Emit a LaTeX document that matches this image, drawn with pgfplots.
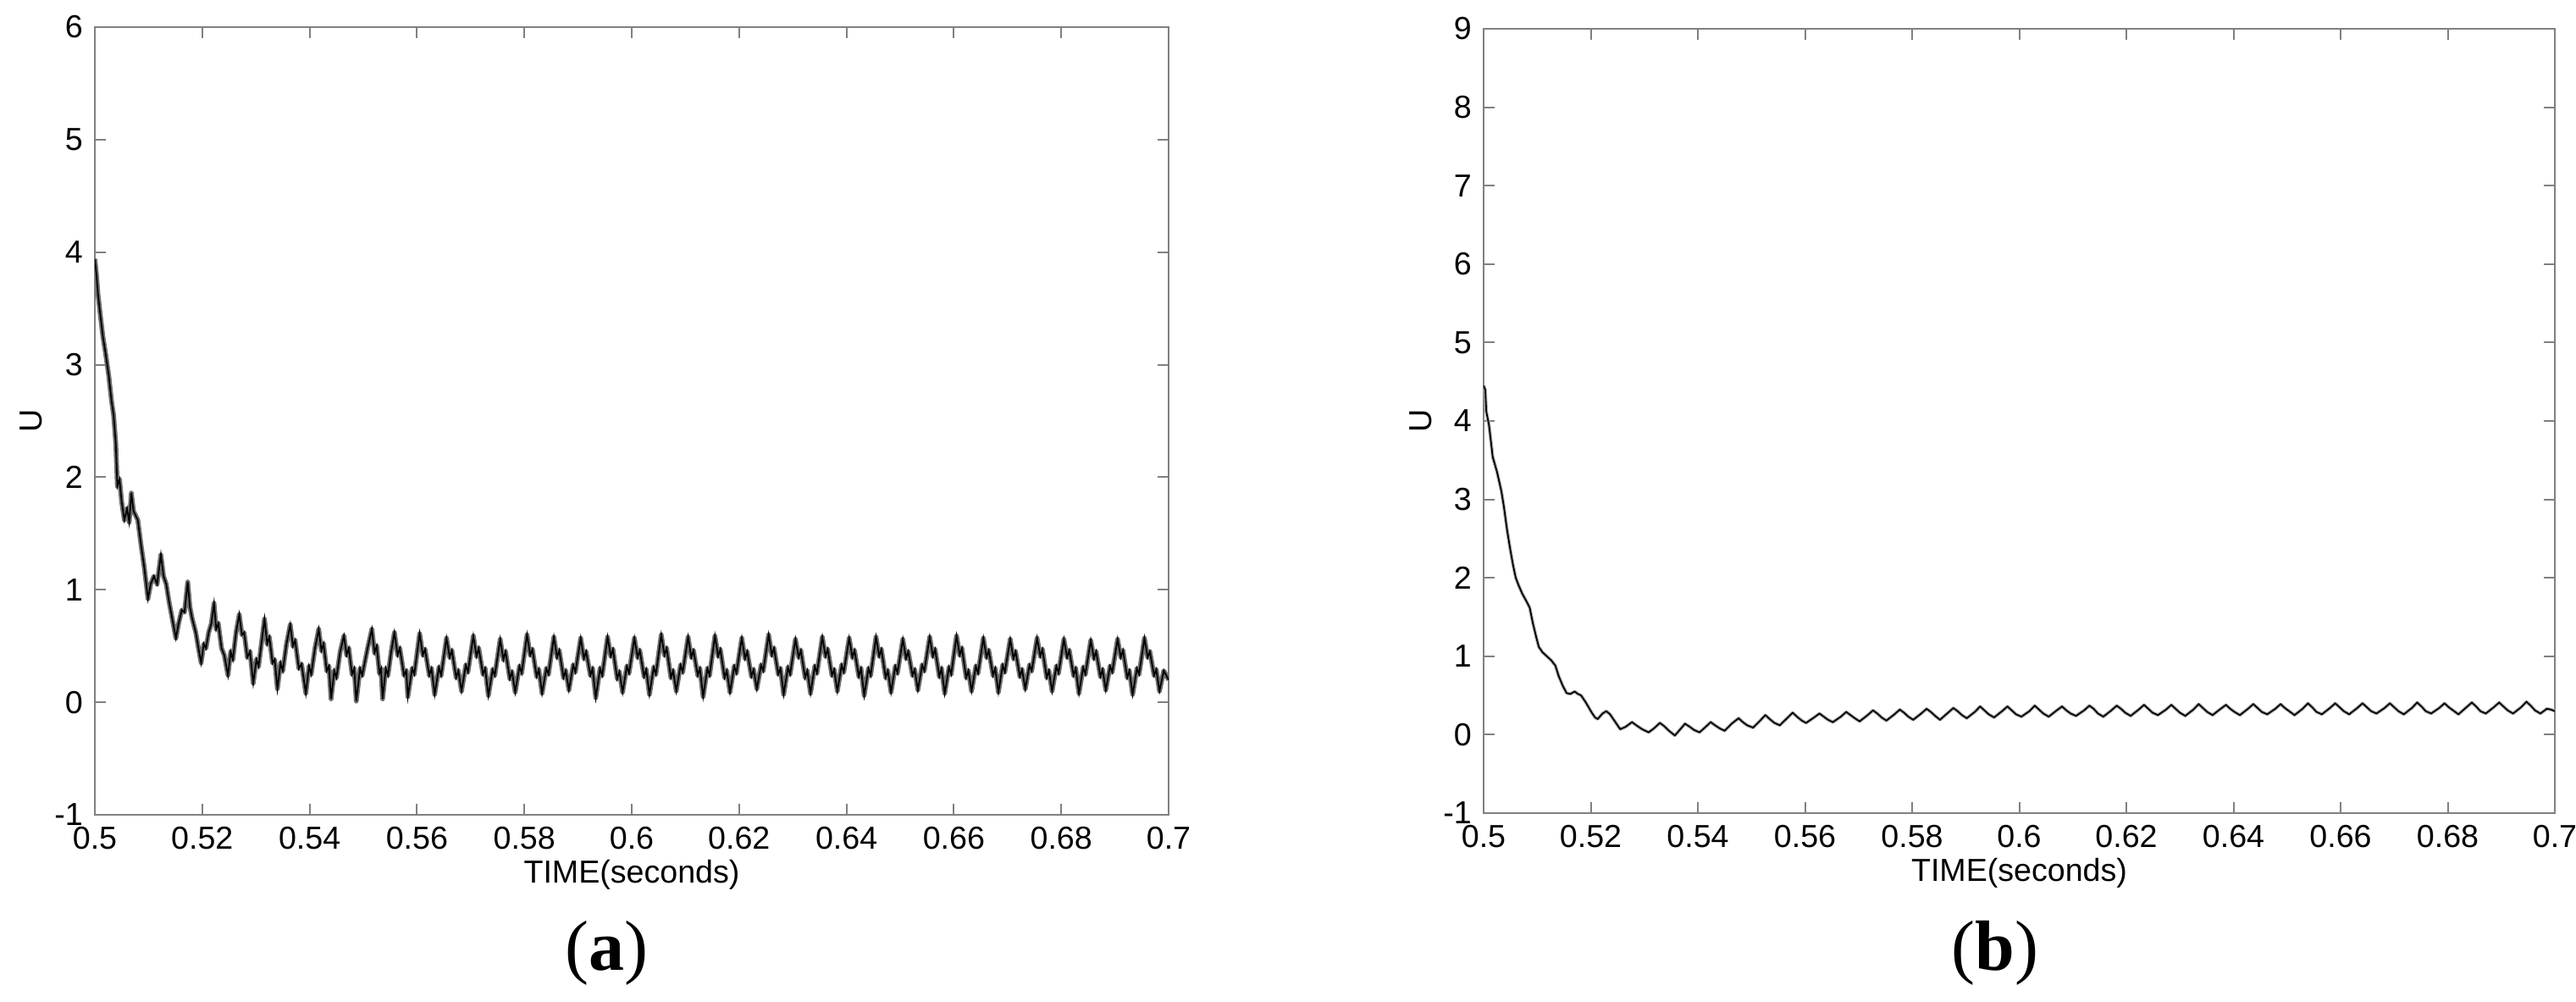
\documentclass[border=0pt]{standalone}
\usepackage{pgfplots}
\pgfplotsset{compat=1.18}
\usepackage{fontspec}
\setmainfont{Liberation Sans}
\newfontfamily\capfont{Liberation Serif}

\definecolor{axgray}{RGB}{128,128,128}
\definecolor{band}{RGB}{110,110,110}

\pgfplotsset{
  matfig/.style={
    scale only axis,
    anchor=south west,
    xmin=0.5, xmax=0.7,
    xtick={0.5,0.52,...,0.7},
    tick align=inside,
    major tick length=3.3pt,
    axis line style={axgray, line width=0.5pt},
    every tick/.style={axgray, line width=0.5pt},
    tick label style={font=\fontsize{9.4}{11}\selectfont},
    /pgf/number format/assume math mode=true,
    xticklabel style={/pgf/number format/fixed, /pgf/number format/precision=2},
    xlabel={TIME(seconds)},
    ylabel={U},
    label style={font=\fontsize{9.4}{11}\selectfont},
    xlabel style={at={(axis description cs:0.5,-0.076)}, anchor=center},
    ylabel style={at={(axis description cs:-0.059,0.5)}, anchor=center, rotate=0},
  }
}

\begin{document}
\begin{tikzpicture}
\useasboundingbox (0,0) rectangle (760.5pt,295.5pt);

% (a) response with ripple
\begin{axis}[matfig, at={(28pt,55pt)}, width=317pt, height=232.5pt,
  ymin=-1, ymax=6, ytick={-1,0,...,6}]
\pgfplotstableread{
t U
0.5000 3.94
0.5003 3.80
0.5006 3.62
0.5010 3.45
0.5015 3.25
0.5020 3.10
0.5026 2.90
0.5031 2.68
0.5035 2.55
0.5039 2.30
0.5042 1.92
0.5046 1.98
0.5050 1.78
0.5055 1.62
0.5060 1.72
0.5064 1.60
0.5068 1.86
0.5072 1.70
0.5076 1.66
0.5080 1.62
0.5086 1.40
0.5092 1.20
0.5099 0.92
0.5104 1.05
0.5110 1.12
0.5116 1.05
0.5123 1.31
0.5128 1.12
0.5133 1.05
0.5138 0.90
0.5145 0.72
0.5151 0.57
0.5156 0.70
0.5162 0.82
0.5167 0.80
0.5173 1.07
0.5177 0.85
0.5181 0.75
0.5188 0.62
0.5193 0.48
0.5198 0.35
0.5203 0.52
0.5207 0.48
0.5212 0.62
0.5217 0.70
0.5222 0.88
0.5226 0.65
0.5230 0.70
0.5236 0.48
0.5241 0.42
0.5248 0.24
0.5253 0.45
0.5257 0.38
0.5263 0.62
0.5269 0.78
0.5274 0.60
0.5278 0.62
0.5284 0.40
0.5289 0.45
0.5295 0.17
0.5301 0.38
0.5305 0.32
0.5311 0.55
0.5316 0.74
0.5321 0.52
0.5325 0.58
0.5331 0.35
0.5335 0.38
0.5340 0.12
0.5346 0.35
0.5350 0.28
0.5357 0.52
0.5364 0.69
0.5369 0.50
0.5373 0.55
0.5380 0.30
0.5385 0.34
0.5393 0.08
0.5399 0.32
0.5403 0.25
0.5410 0.48
0.5417 0.65
0.5422 0.46
0.5426 0.52
0.5432 0.28
0.5436 0.32
0.5440 0.03
0.5446 0.28
0.5450 0.22
0.5457 0.45
0.5464 0.59
0.5469 0.42
0.5473 0.48
0.5479 0.25
0.5483 0.30
0.5487 0.01
0.5494 0.30
0.5498 0.24
0.5508 0.48
0.5516 0.65
0.5521 0.44
0.5525 0.50
0.5530 0.26
0.5533 0.30
0.5536 0.03
0.5542 0.30
0.5546 0.24
0.5552 0.45
0.5558 0.62
0.5564 0.42
0.5568 0.48
0.5576 0.24
0.5580 0.28
0.5583 0.05
0.5591 0.30
0.5595 0.25
0.5605 0.61
0.5611 0.42
0.5615 0.47
0.5623 0.24
0.5627 0.30
0.5633 0.07
0.5641 0.31
0.5645 0.24
0.5655 0.57
0.5661 0.40
0.5665 0.46
0.5673 0.22
0.5677 0.28
0.5683 0.10
0.5691 0.33
0.5695 0.27
0.5705 0.59
0.5711 0.41
0.5715 0.48
0.5723 0.25
0.5727 0.30
0.5733 0.06
0.5741 0.29
0.5745 0.24
0.5755 0.56
0.5761 0.38
0.5765 0.45
0.5773 0.21
0.5777 0.27
0.5783 0.09
0.5791 0.32
0.5795 0.26
0.5805 0.60
0.5811 0.42
0.5815 0.47
0.5823 0.23
0.5827 0.29
0.5833 0.08
0.5841 0.30
0.5845 0.25
0.5855 0.58
0.5861 0.40
0.5865 0.46
0.5873 0.22
0.5877 0.28
0.5883 0.11
0.5891 0.33
0.5895 0.27
0.5905 0.57
0.5911 0.39
0.5915 0.45
0.5923 0.24
0.5927 0.30
0.5933 0.04
0.5941 0.30
0.5945 0.24
0.5955 0.58
0.5961 0.41
0.5965 0.47
0.5973 0.21
0.5977 0.27
0.5983 0.09
0.5991 0.32
0.5995 0.26
0.6005 0.57
0.6011 0.40
0.6015 0.46
0.6023 0.23
0.6027 0.29
0.6033 0.07
0.6041 0.31
0.6045 0.25
0.6055 0.60
0.6061 0.42
0.6065 0.48
0.6073 0.22
0.6077 0.28
0.6083 0.10
0.6091 0.33
0.6095 0.27
0.6105 0.58
0.6111 0.40
0.6115 0.46
0.6123 0.24
0.6127 0.30
0.6133 0.05
0.6141 0.30
0.6145 0.24
0.6155 0.59
0.6161 0.41
0.6165 0.47
0.6173 0.22
0.6177 0.28
0.6183 0.09
0.6191 0.32
0.6195 0.26
0.6205 0.57
0.6211 0.39
0.6215 0.45
0.6223 0.23
0.6227 0.29
0.6233 0.12
0.6241 0.33
0.6245 0.28
0.6255 0.60
0.6261 0.42
0.6265 0.48
0.6273 0.25
0.6277 0.30
0.6283 0.07
0.6291 0.31
0.6295 0.25
0.6305 0.56
0.6311 0.40
0.6315 0.46
0.6323 0.22
0.6327 0.28
0.6333 0.08
0.6341 0.32
0.6345 0.26
0.6355 0.58
0.6361 0.41
0.6365 0.47
0.6373 0.24
0.6377 0.29
0.6383 0.10
0.6391 0.33
0.6395 0.27
0.6405 0.57
0.6411 0.40
0.6415 0.46
0.6423 0.23
0.6427 0.30
0.6433 0.06
0.6441 0.30
0.6445 0.24
0.6455 0.58
0.6461 0.41
0.6465 0.47
0.6473 0.22
0.6477 0.28
0.6483 0.09
0.6491 0.32
0.6495 0.26
0.6505 0.56
0.6511 0.39
0.6515 0.45
0.6523 0.24
0.6527 0.29
0.6533 0.11
0.6541 0.33
0.6545 0.28
0.6555 0.58
0.6561 0.41
0.6565 0.47
0.6573 0.23
0.6577 0.30
0.6583 0.08
0.6591 0.31
0.6595 0.25
0.6605 0.59
0.6611 0.42
0.6615 0.48
0.6623 0.22
0.6627 0.28
0.6633 0.10
0.6641 0.32
0.6645 0.26
0.6655 0.57
0.6661 0.40
0.6665 0.46
0.6673 0.24
0.6677 0.30
0.6683 0.09
0.6691 0.33
0.6695 0.27
0.6705 0.56
0.6711 0.39
0.6715 0.45
0.6723 0.23
0.6727 0.29
0.6733 0.12
0.6741 0.33
0.6745 0.28
0.6755 0.57
0.6761 0.41
0.6765 0.47
0.6773 0.22
0.6777 0.28
0.6783 0.10
0.6791 0.32
0.6795 0.26
0.6805 0.56
0.6811 0.40
0.6815 0.46
0.6823 0.24
0.6827 0.30
0.6833 0.08
0.6841 0.31
0.6845 0.25
0.6855 0.55
0.6861 0.39
0.6865 0.45
0.6873 0.23
0.6877 0.29
0.6883 0.11
0.6891 0.32
0.6895 0.27
0.6905 0.56
0.6911 0.40
0.6915 0.46
0.6923 0.22
0.6927 0.28
0.6933 0.07
0.6941 0.30
0.6945 0.25
0.6955 0.57
0.6961 0.40
0.6965 0.45
0.6973 0.24
0.6977 0.29
0.6983 0.10
0.6991 0.28
0.7000 0.20
}\dataA
\addplot[band, line width=1.4pt, line join=round] table[x=t, y=U] {\dataA};
\addplot[black, line width=0.45pt] table[x=t, y=U] {\dataA};
\end{axis}

% (b) response with small ripple
\begin{axis}[matfig, at={(438pt,55.5pt)}, width=316.25pt, height=231.5pt,
  ymin=-1, ymax=9, ytick={-1,0,...,9}]
\pgfplotstableread{
t U
0.5000 4.45
0.5003 4.40
0.5005 4.12
0.5010 3.95
0.5017 3.54
0.5025 3.35
0.5033 3.11
0.5038 2.90
0.5044 2.60
0.5050 2.35
0.5055 2.16
0.5060 2.00
0.5065 1.91
0.5072 1.80
0.5080 1.70
0.5086 1.62
0.5092 1.42
0.5098 1.25
0.5103 1.12
0.5110 1.05
0.5118 1.00
0.5126 0.95
0.5134 0.88
0.5140 0.75
0.5148 0.62
0.5155 0.53
0.5162 0.52
0.5170 0.55
0.5176 0.52
0.5182 0.50
0.5190 0.42
0.5196 0.35
0.5202 0.28
0.5208 0.22
0.5213 0.20
0.5222 0.27
0.5229 0.30
0.5236 0.26
0.5244 0.18
0.5255 0.07
0.5265 0.10
0.5277 0.16
0.5285 0.12
0.5296 0.07
0.5308 0.03
0.5318 0.08
0.5329 0.15
0.5337 0.11
0.5346 0.05
0.5357 -0.01
0.5366 0.06
0.5376 0.14
0.5385 0.10
0.5393 0.06
0.5403 0.03
0.5413 0.09
0.5424 0.16
0.5432 0.12
0.5441 0.08
0.5450 0.05
0.5463 0.14
0.5476 0.21
0.5484 0.16
0.5492 0.12
0.5503 0.09
0.5515 0.17
0.5526 0.25
0.5534 0.20
0.5543 0.15
0.5553 0.12
0.5565 0.20
0.5577 0.28
0.5585 0.23
0.5594 0.18
0.5602 0.15
0.5617 0.22
0.5627 0.27
0.5635 0.23
0.5643 0.19
0.5652 0.16
0.5667 0.23
0.5677 0.29
0.5685 0.25
0.5693 0.21
0.5702 0.17
0.5717 0.25
0.5727 0.31
0.5735 0.27
0.5743 0.22
0.5752 0.18
0.5767 0.26
0.5777 0.32
0.5785 0.28
0.5793 0.23
0.5802 0.19
0.5817 0.27
0.5827 0.33
0.5835 0.29
0.5843 0.24
0.5852 0.19
0.5867 0.28
0.5877 0.34
0.5885 0.30
0.5893 0.25
0.5902 0.21
0.5917 0.29
0.5927 0.36
0.5935 0.31
0.5943 0.26
0.5953 0.22
0.5968 0.30
0.5978 0.36
0.5986 0.31
0.5994 0.26
0.6004 0.23
0.6019 0.30
0.6029 0.37
0.6037 0.32
0.6045 0.27
0.6055 0.23
0.6070 0.31
0.6080 0.36
0.6088 0.31
0.6096 0.27
0.6106 0.24
0.6121 0.31
0.6131 0.37
0.6139 0.33
0.6147 0.27
0.6157 0.23
0.6172 0.31
0.6182 0.37
0.6190 0.33
0.6198 0.28
0.6208 0.24
0.6223 0.32
0.6233 0.38
0.6241 0.33
0.6249 0.28
0.6259 0.25
0.6274 0.32
0.6284 0.38
0.6292 0.33
0.6300 0.28
0.6310 0.24
0.6325 0.32
0.6335 0.39
0.6343 0.34
0.6351 0.29
0.6361 0.25
0.6376 0.33
0.6386 0.38
0.6394 0.33
0.6402 0.29
0.6412 0.25
0.6427 0.33
0.6437 0.39
0.6445 0.34
0.6453 0.29
0.6463 0.26
0.6478 0.33
0.6488 0.39
0.6496 0.34
0.6504 0.30
0.6514 0.25
0.6529 0.33
0.6539 0.40
0.6547 0.35
0.6555 0.29
0.6565 0.26
0.6580 0.34
0.6590 0.40
0.6598 0.35
0.6606 0.30
0.6616 0.26
0.6631 0.34
0.6641 0.40
0.6649 0.35
0.6657 0.30
0.6667 0.27
0.6682 0.34
0.6692 0.40
0.6700 0.35
0.6708 0.30
0.6718 0.26
0.6733 0.34
0.6743 0.41
0.6751 0.36
0.6759 0.30
0.6769 0.27
0.6784 0.34
0.6794 0.40
0.6802 0.35
0.6810 0.31
0.6820 0.26
0.6835 0.35
0.6845 0.41
0.6853 0.36
0.6861 0.30
0.6871 0.27
0.6886 0.35
0.6896 0.41
0.6904 0.36
0.6912 0.31
0.6922 0.27
0.6937 0.35
0.6947 0.42
0.6955 0.37
0.6963 0.31
0.6973 0.27
0.6985 0.33
0.6993 0.32
0.7000 0.30
}\dataB
\addplot[gray!60, line width=1.0pt, line join=round] table[x=t, y=U] {\dataB};
\addplot[black, line width=0.45pt] table[x=t, y=U] {\dataB};
\end{axis}

\node[font=\capfont\fontsize{21}{25}\selectfont] at (179pt,14.25pt) {(\textbf{a})};
\node[font=\capfont\fontsize{21}{25}\selectfont] at (589pt,14.25pt) {(\textbf{b})};
\end{tikzpicture}
\end{document}
